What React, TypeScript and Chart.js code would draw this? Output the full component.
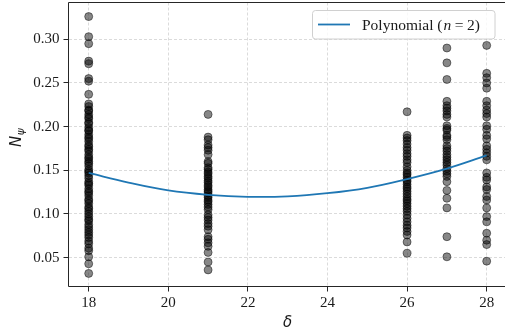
import React, { useEffect, useRef } from 'react';
import { Chart, registerables } from 'chart.js';

Chart.register(...registerables);

// delta categories
const deltaValues = [18, 21, 26, 27, 28];

// N_psi observations per delta
const nPsiAt18 = [0.326, 0.303, 0.295, 0.275, 0.272, 0.255, 0.252, 0.237, 0.226, 0.223, 0.219, 0.218, 0.214, 0.211, 0.209, 0.205, 0.203, 0.199, 0.196, 0.195, 0.191, 0.188, 0.186, 0.183, 0.179, 0.177, 0.174, 0.172, 0.168, 0.165, 0.163, 0.160, 0.158, 0.155, 0.151, 0.149, 0.147, 0.144, 0.141, 0.137, 0.135, 0.133, 0.129, 0.126, 0.124, 0.121, 0.117, 0.115, 0.112, 0.108, 0.106, 0.103, 0.100, 0.097, 0.094, 0.092, 0.088, 0.085, 0.082, 0.079, 0.076, 0.073, 0.069, 0.066, 0.061, 0.058, 0.051, 0.043, 0.032];
const nPsiAt21 = [0.214, 0.188, 0.185, 0.179, 0.176, 0.173, 0.168, 0.160, 0.158, 0.153, 0.151, 0.148, 0.146, 0.143, 0.141, 0.138, 0.136, 0.133, 0.131, 0.128, 0.126, 0.124, 0.121, 0.119, 0.116, 0.114, 0.111, 0.108, 0.105, 0.099, 0.096, 0.093, 0.089, 0.086, 0.082, 0.074, 0.071, 0.067, 0.063, 0.056, 0.045, 0.036];
const nPsiAt26 = [0.217, 0.190, 0.187, 0.184, 0.180, 0.176, 0.173, 0.169, 0.166, 0.162, 0.159, 0.154, 0.150, 0.147, 0.145, 0.142, 0.139, 0.137, 0.134, 0.131, 0.129, 0.126, 0.123, 0.120, 0.117, 0.115, 0.112, 0.109, 0.106, 0.103, 0.099, 0.095, 0.091, 0.087, 0.084, 0.080, 0.076, 0.068, 0.055];
const nPsiAt27 = [0.290, 0.273, 0.254, 0.229, 0.224, 0.221, 0.218, 0.214, 0.211, 0.201, 0.198, 0.196, 0.190, 0.188, 0.185, 0.178, 0.175, 0.172, 0.168, 0.165, 0.162, 0.159, 0.156, 0.152, 0.149, 0.146, 0.143, 0.137, 0.127, 0.118, 0.107, 0.074, 0.051];
const nPsiAt28 = [0.293, 0.261, 0.256, 0.250, 0.244, 0.229, 0.224, 0.219, 0.215, 0.211, 0.201, 0.197, 0.190, 0.186, 0.178, 0.174, 0.170, 0.166, 0.162, 0.147, 0.142, 0.139, 0.131, 0.128, 0.120, 0.116, 0.107, 0.097, 0.091, 0.078, 0.070, 0.065, 0.046];
const nPsiSeries = [nPsiAt18, nPsiAt21, nPsiAt26, nPsiAt27, nPsiAt28];

// polynomial (n = 2) fit
const fitDelta = [18, 19, 20, 21, 22, 23, 24, 25, 26, 27, 28];
const fitNPsi = [0.147, 0.136, 0.127, 0.122, 0.1197, 0.1202, 0.1238, 0.130, 0.140, 0.152, 0.167];

// ticks
const xTickValues = [18, 20, 22, 24, 26, 28];
const yTickValues = [0.05, 0.10, 0.15, 0.20, 0.25, 0.30];

const legendLabel = 'Polynomial';

const SERIF = '"Liberation Serif", "DejaVu Serif", serif';
const SANS = '"DejaVu Sans", sans-serif';

export default function App() {
  const ref = useRef<HTMLCanvasElement>(null);

  useEffect(() => {
    document.body.style.margin = '0';
    document.body.style.overflow = 'hidden';
    const canvas = ref.current;
    if (!canvas) return;

    const scatterPoints: { x: number; y: number }[] = [];
    deltaValues.forEach((d, i) => {
      nPsiSeries[i].forEach((v) => scatterPoints.push({ x: d, y: v }));
    });
    const fitPoints = fitDelta.map((d, i) => ({ x: d, y: fitNPsi[i] }));

    const decor = {
      id: 'decor',
      afterDraw(chart: any) {
        const ctx = chart.ctx as CanvasRenderingContext2D;
        const a = chart.chartArea;
        ctx.save();
        // spines
        ctx.strokeStyle = '#262626';
        ctx.lineWidth = 1;
        ctx.setLineDash([]);
        ctx.beginPath();
        ctx.moveTo(a.left, a.bottom);
        ctx.lineTo(a.left, a.top);
        ctx.lineTo(a.right + 2, a.top);
        ctx.moveTo(a.left, a.bottom);
        ctx.lineTo(a.right + 2, a.bottom);
        ctx.stroke();

        // legend
        const lx = 312.5, ly = 10.5, lw = 182.5, lh = 28.5, r = 3;
        ctx.beginPath();
        ctx.moveTo(lx + r, ly);
        ctx.lineTo(lx + lw - r, ly);
        ctx.quadraticCurveTo(lx + lw, ly, lx + lw, ly + r);
        ctx.lineTo(lx + lw, ly + lh - r);
        ctx.quadraticCurveTo(lx + lw, ly + lh, lx + lw - r, ly + lh);
        ctx.lineTo(lx + r, ly + lh);
        ctx.quadraticCurveTo(lx, ly + lh, lx, ly + lh - r);
        ctx.lineTo(lx, ly + r);
        ctx.quadraticCurveTo(lx, ly, lx + r, ly);
        ctx.closePath();
        ctx.fillStyle = 'rgba(255,255,255,0.8)';
        ctx.fill();
        ctx.strokeStyle = '#d0d0d0';
        ctx.stroke();

        ctx.strokeStyle = '#1f77b4';
        ctx.lineWidth = 1.8;
        ctx.beginPath();
        ctx.moveTo(318, 24.5);
        ctx.lineTo(350, 24.5);
        ctx.stroke();

        ctx.fillStyle = '#1a1a1a';
        ctx.textBaseline = 'alphabetic';
        ctx.textAlign = 'left';
        let tx = 362;
        const ty = 30;
        ctx.font = `15.5px ${SERIF}`;
        const p1 = legendLabel + ' (';
        ctx.fillText(p1, tx, ty);
        tx += ctx.measureText(p1).width + 1;
        ctx.font = `italic 15.5px ${SERIF}`;
        ctx.fillText('n', tx, ty);
        tx += ctx.measureText('n').width + 3.5;
        ctx.font = `15.5px ${SERIF}`;
        ctx.fillText('=', tx, ty);
        tx += ctx.measureText('=').width + 3.5;
        ctx.fillText('2)', tx, ty);

        // x title
        ctx.font = `italic 15px ${SANS}`;
        ctx.textAlign = 'center';
        ctx.fillText('δ', 287.7, 327);

        // y title
        ctx.save();
        ctx.translate(21, 147);
        ctx.rotate(-Math.PI / 2);
        ctx.textAlign = 'left';
        ctx.font = `italic 15px ${SANS}`;
        ctx.fillText('N', 0, 0);
        const nw = ctx.measureText('N').width;
        ctx.font = `italic 10.5px ${SANS}`;
        ctx.fillText('ψ', nw + 0.5, 3);
        ctx.restore();

        ctx.restore();
      },
    };

    const gridCommon = {
      color: 'rgba(0,0,0,0.18)',
      lineWidth: 0.8,
      tickLength: 5,
      tickColor: '#262626',
      tickWidth: 1,
      tickBorderDash: [],
    };

    const chart = new Chart(canvas, {
      type: 'scatter',
      data: {
        datasets: [
          {
            label: legendLabel,
            data: fitPoints,
            showLine: true,
            borderColor: '#1f77b4',
            backgroundColor: '#1f77b4',
            borderWidth: 1.8,
            pointRadius: 0,
            tension: 0.4,
            fill: false,
          } as any,
          {
            label: 'data',
            data: scatterPoints,
            pointRadius: 4,
            pointBorderWidth: 1,
            backgroundColor: 'rgba(0,0,0,0.47)',
            borderColor: 'rgba(0,0,0,0.47)',
            showLine: false,
          } as any,
        ],
      },
      options: {
        responsive: false,
        animation: false,
        devicePixelRatio: 1,
        layout: { autoPadding: false, padding: { left: 0, right: 0, top: 2.5, bottom: 0 } },
        plugins: { legend: { display: false }, tooltip: { enabled: false } },
        scales: {
          x: {
            type: 'linear',
            min: 17.4925,
            max: 28.46,
            afterBuildTicks: (s: any) => {
              s.ticks = xTickValues.map((v) => ({ value: v }));
            },
            afterFit: (s: any) => {
              s.height = 49.5;
              s.paddingLeft = 0;
              s.paddingRight = 0;
            },
            grid: gridCommon,
            border: { display: false, dash: [3, 2] },
            ticks: {
              font: { family: SERIF, size: 15 },
              color: '#1a1a1a',
              padding: 3,
              maxRotation: 0,
              autoSkip: false,
              callback: (v: any) => String(v),
            },
          },
          y: {
            type: 'linear',
            min: 0.017,
            max: 0.3421,
            afterBuildTicks: (s: any) => {
              s.ticks = yTickValues.map((v) => ({ value: v }));
            },
            afterFit: (s: any) => {
              s.width = 68.5;
              s.paddingTop = 0;
              s.paddingBottom = 0;
            },
            grid: gridCommon,
            border: { display: false, dash: [3, 2] },
            ticks: {
              font: { family: SERIF, size: 15 },
              color: '#1a1a1a',
              padding: 4,
              autoSkip: false,
              callback: (v: any) => Number(v).toFixed(2),
            },
          },
        },
      } as any,
      plugins: [decor],
    });

    return () => chart.destroy();
  }, []);

  return (
    <div style={{ position: 'fixed', left: 0, top: 0, width: 505, height: 336 }}>
      <canvas ref={ref} width={505} height={336} style={{ display: 'block', width: 505, height: 336 }} />
    </div>
  );
}
